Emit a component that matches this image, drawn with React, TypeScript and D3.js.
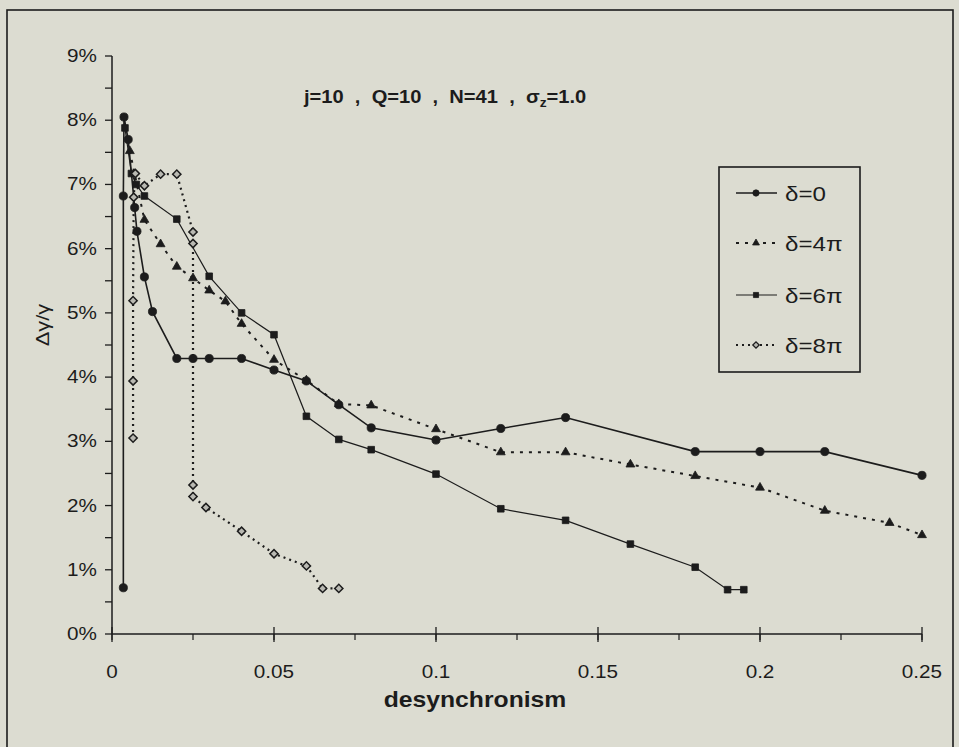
import * as d3 from 'd3';
import React, { useEffect } from 'react';

// desynchronism (x) and Δγ/γ in % (y)
const x0 = [0.0035, 0.0035, 0.0037, 0.005, 0.007, 0.0077, 0.01, 0.0125, 0.02, 0.025, 0.03, 0.04, 0.05, 0.06, 0.07, 0.08, 0.1, 0.12, 0.14, 0.18, 0.2, 0.22, 0.25];
const y0 = [0.72, 6.82, 8.05, 7.7, 6.64, 6.27, 5.56, 5.02, 4.29, 4.29, 4.29, 4.29, 4.11, 3.94, 3.57, 3.21, 3.02, 3.2, 3.37, 2.84, 2.84, 2.84, 2.47];

const x4 = [0.0055, 0.01, 0.015, 0.02, 0.025, 0.03, 0.035, 0.04, 0.05, 0.06, 0.07, 0.08, 0.1, 0.12, 0.14, 0.16, 0.18, 0.2, 0.22, 0.24, 0.25];
const y4 = [7.52, 6.45, 6.07, 5.72, 5.54, 5.35, 5.18, 4.83, 4.27, 3.95, 3.58, 3.56, 3.19, 2.83, 2.83, 2.64, 2.46, 2.28, 1.92, 1.73, 1.54];

const x6 = [0.004, 0.006, 0.0075, 0.01, 0.02, 0.03, 0.04, 0.05, 0.06, 0.07, 0.08, 0.1, 0.12, 0.14, 0.16, 0.18, 0.19, 0.195];
const y6 = [7.88, 7.17, 7.0, 6.82, 6.46, 5.57, 5.0, 4.66, 3.39, 3.03, 2.87, 2.49, 1.95, 1.77, 1.4, 1.04, 0.69, 0.69];

const x8 = [0.0065, 0.0065, 0.0065, 0.0067, 0.0072, 0.01, 0.015, 0.02, 0.025, 0.025, 0.025, 0.025, 0.029, 0.04, 0.05, 0.06, 0.065, 0.07];
const y8 = [3.05, 3.94, 5.19, 6.8, 7.17, 6.98, 7.16, 7.16, 6.26, 6.08, 2.32, 2.14, 1.97, 1.6, 1.25, 1.06, 0.71, 0.71];

const seriesLabels = ['δ=0', 'δ=4π', 'δ=6π', 'δ=8π'];
const xTicks = [0, 0.05, 0.1, 0.15, 0.2, 0.25];
const xTickLabels = ['0', '0.05', '0.1', '0.15', '0.2', '0.25'];
const yTicks = [0, 1, 2, 3, 4, 5, 6, 7, 8, 9];

const W = 959;
const H = 747;
const INK = '#1c1c1c';
const BG = '#dcdcd1';
const FONT = '"Liberation Sans", Arial, sans-serif';
const SX = 1.15; // the scan is a little stretched sideways

type Style = {
  dash?: string;
  width: number;
  symbol: d3.SymbolType;
  size: number;
  rotate: number;
  fill: string;
  stroke: string;
};

const styles: Style[] = [
  { width: 1.6, symbol: d3.symbolCircle, size: 52, rotate: 0, fill: INK, stroke: INK },
  { dash: '3,6', width: 2, symbol: d3.symbolTriangle, size: 34, rotate: 0, fill: INK, stroke: INK },
  { width: 1.2, symbol: d3.symbolSquare, size: 44, rotate: 0, fill: INK, stroke: INK },
  { dash: '2,4', width: 2.2, symbol: d3.symbolSquare, size: 34, rotate: 45, fill: '#b9b9b2', stroke: INK },
];

const T = ({ x, y, size, bold, anchor, children }: any) => (
  <text
    transform={`translate(${x},${y}) scale(${SX},1)`}
    fontSize={size}
    fontWeight={bold ? 'bold' : 'normal'}
    textAnchor={anchor || 'start'}
    fill={INK}
    fontFamily={FONT}
    style={{ whiteSpace: 'pre' }}
  >
    {children}
  </text>
);

export default function App() {
  useEffect(() => {
    document.body.style.margin = '0';
    document.body.style.background = BG;
  }, []);

  const x = d3.scaleLinear().domain([0, 0.25]).range([112, 922]);
  const y = d3.scaleLinear().domain([0, 9]).range([634, 56]);

  const data = [
    d3.zip(x0, y0),
    d3.zip(x4, y4),
    d3.zip(x6, y6),
    d3.zip(x8, y8),
  ];

  const line = d3
    .line<number[]>()
    .x((d) => x(d[0]))
    .y((d) => y(d[1]));

  const minorY = d3.range(0, 9.01, 0.5);
  const minorX = d3.range(0, 0.2501, 0.025);

  const legendX = 719;
  const legendY = 167;
  const legendRows = [193, 243, 295, 345];

  return (
    <svg
      width={W}
      height={H}
      style={{ position: 'absolute', left: 0, top: 0, background: BG }}
    >
      <rect x={0} y={0} width={W} height={H} fill={BG} />
      {/* outer frame */}
      <rect x={7} y={10} width={946} height={760} fill="none" stroke={INK} strokeWidth={1.6} />

      {/* title */}
      <T x={304} y={103} size={17.5} bold>
        {'j=10  ,  Q=10  ,  N=41  ,  σ'}
        <tspan fontSize={12} dy={4}>z</tspan>
        <tspan dy={-4}>=1.0</tspan>
      </T>

      {/* y axis */}
      <line x1={x(0)} x2={x(0)} y1={y(9)} y2={y(0)} stroke={INK} strokeWidth={1.5} />
      {minorY.map((v) => (
        <line key={'yt' + v} x1={x(0) - 7} x2={x(0)} y1={y(v)} y2={y(v)} stroke={INK} strokeWidth={1.3} />
      ))}
      {yTicks.map((v) => (
        <T key={'yl' + v} x={x(0) - 15} y={y(v) + 6} size={18} anchor="end">
          {v + '%'}
        </T>
      ))}

      {/* x axis */}
      <line x1={x(0)} x2={x(0.25)} y1={y(0)} y2={y(0)} stroke={INK} strokeWidth={1.5} />
      {minorX.map((v) => (
        <line key={'xm' + v} x1={x(v)} x2={x(v)} y1={y(0)} y2={y(0) + 6} stroke={INK} strokeWidth={1.2} />
      ))}
      {xTicks.map((v) => (
        <line key={'xt' + v} x1={x(v)} x2={x(v)} y1={y(0) - 7} y2={y(0) + 8} stroke={INK} strokeWidth={1.3} />
      ))}
      {xTicks.map((v, i) => (
        <T key={'xl' + v} x={x(v)} y={678} size={18} anchor="middle">
          {xTickLabels[i]}
        </T>
      ))}

      <T x={475} y={707} size={21.5} bold anchor="middle">
        desynchronism
      </T>
      <text
        transform="translate(49,325) scale(1,1.15) rotate(-90)"
        fontSize={19}
        fill={INK}
        fontFamily={FONT}
        textAnchor="middle"
      >
        Δγ/γ
      </text>

      {/* series */}
      {data.map((pts, i) => (
        <path
          key={'s' + i}
          d={line(pts) || ''}
          fill="none"
          stroke={INK}
          strokeWidth={styles[i].width}
          strokeDasharray={styles[i].dash}
        />
      ))}
      {data.map((pts, i) =>
        pts.map((p, j) => (
          <path
            key={'m' + i + '-' + j}
            d={d3.symbol().type(styles[i].symbol).size(styles[i].size)() || ''}
            transform={`translate(${x(p[0])},${y(p[1])}) rotate(${styles[i].rotate})`}
            fill={styles[i].fill}
            stroke={styles[i].stroke}
            strokeWidth={i === 3 ? 1.5 : 0.8}
          />
        )),
      )}

      {/* legend */}
      <rect x={legendX} y={legendY} width={141} height={205} fill={BG} stroke={INK} strokeWidth={1.6} />
      {seriesLabels.map((lab, i) => (
        <g key={'lg' + i}>
          <line
            x1={736}
            x2={777}
            y1={legendRows[i]}
            y2={legendRows[i]}
            stroke={INK}
            strokeWidth={styles[i].width}
            strokeDasharray={styles[i].dash}
          />
          <path
            d={d3.symbol().type(styles[i].symbol).size(styles[i].size * 0.6)() || ''}
            transform={`translate(756,${legendRows[i]}) rotate(${styles[i].rotate})`}
            fill={styles[i].fill}
            stroke={styles[i].stroke}
            strokeWidth={i === 3 ? 1.3 : 0.8}
          />
          <T x={785} y={legendRows[i] + 8} size={21}>
            {lab}
          </T>
        </g>
      ))}
    </svg>
  );
}
